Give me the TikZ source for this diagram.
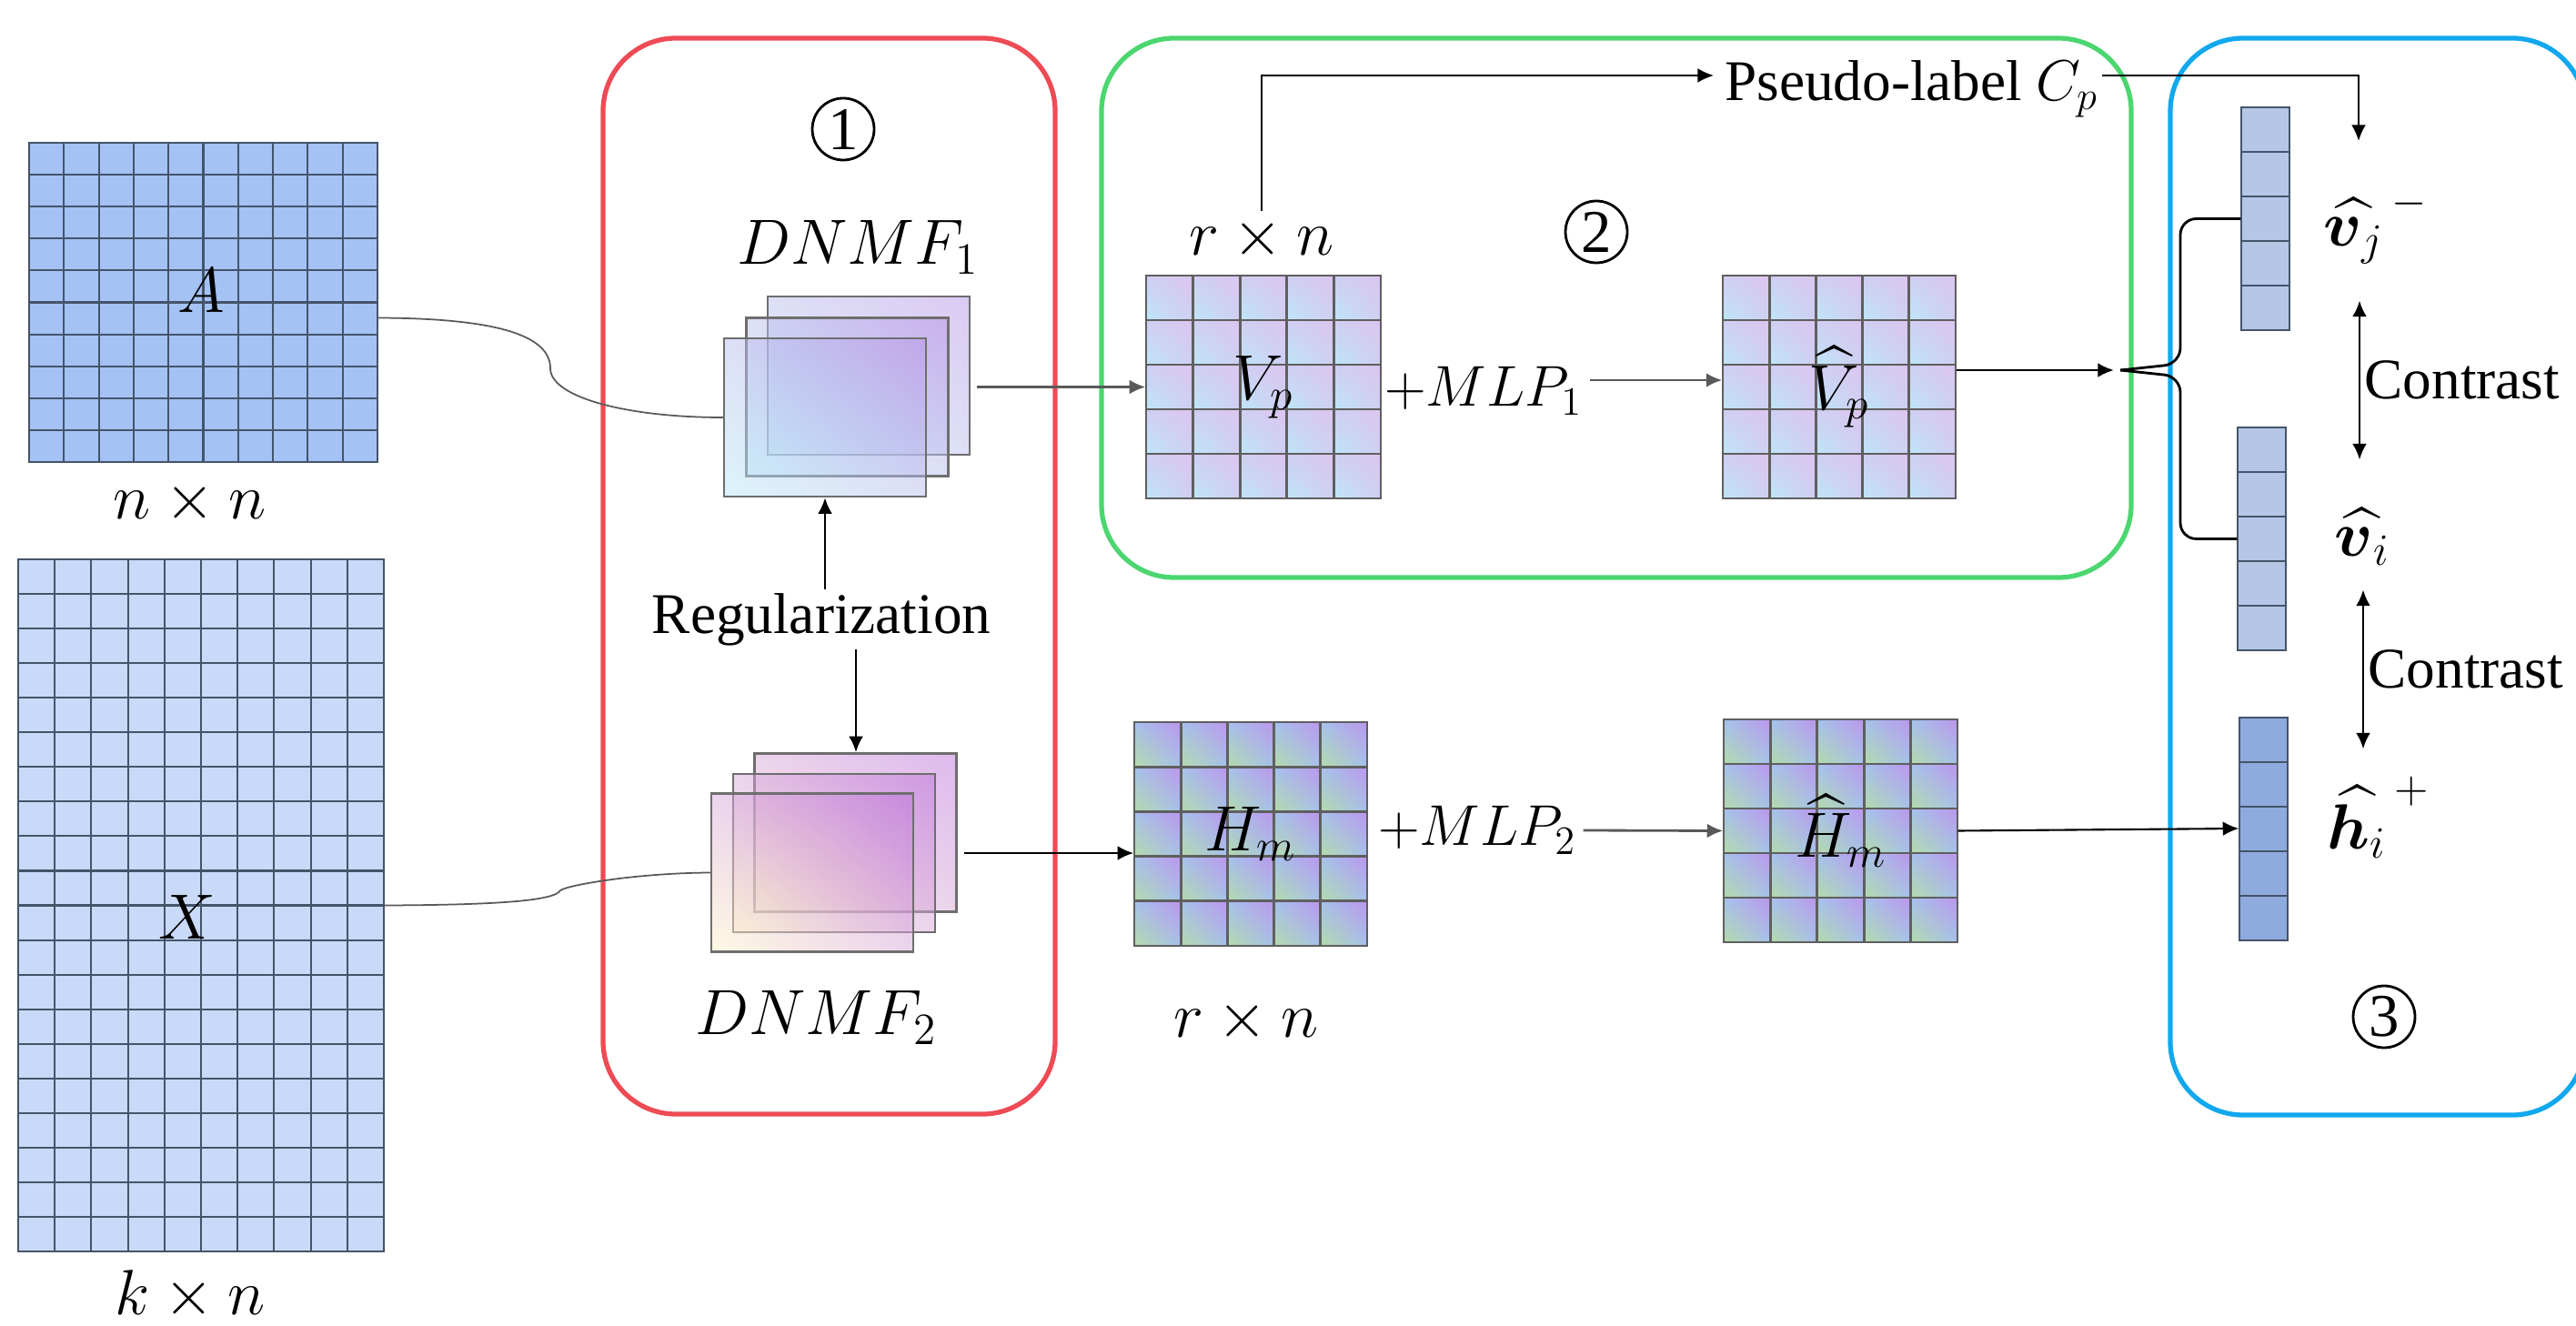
\documentclass[tikz,border=0pt]{standalone}
\usepackage{fix-cm}
\usepackage{amsmath}
\usepackage{fontspec}
\setmainfont{Liberation Serif}
\usetikzlibrary{arrows.meta, positioning, calc, shadings}
\definecolor{regred}{HTML}{EE4B55}
\definecolor{mlpgreen}{HTML}{4BD670}
\definecolor{conblue}{HTML}{12A8EE}
\definecolor{gridline}{HTML}{44546A}
\definecolor{adjfill}{HTML}{A4C2F4}
\definecolor{featfill}{HTML}{C9DAF8}
\definecolor{vecfill}{HTML}{B4C7E7}
\definecolor{hvecfill}{HTML}{8FAADC}
\definecolor{cellgrey}{HTML}{5F5F5F}
\definecolor{linegrey}{HTML}{595959}
\definecolor{stackgrey}{HTML}{6E6E6E}
\definecolor{dnecyan}{HTML}{B8EAF8}
\definecolor{dnepurple}{HTML}{B895E6}
\definecolor{dnemid}{HTML}{BCC0EE}
\definecolor{dntcream}{HTML}{FFF4C6}
\definecolor{dntpurple}{HTML}{BC74D9}
\definecolor{dntmid}{HTML}{D9A8DA}
\definecolor{vpcyan}{HTML}{BEE6F7}
\definecolor{vppink}{HTML}{DDC5F0}
\definecolor{vpmid}{HTML}{CFCEF2}
\definecolor{hmgreen}{HTML}{B4DBA9}
\definecolor{hmpurple}{HTML}{BC95EC}
\definecolor{hmblue}{HTML}{A4C2EE}

% cells of a matrix: x0, y0, cell width, cell height, cols, rows, style
\newcommand{\cellblock}[7]{%
  \foreach \i in {1,...,#5}{%
    \foreach \j in {1,...,#6}{%
      \path[#7] ({#1+(\i-1)*#3},{#2+(\j-1)*#4}) rectangle ++(#3,#4);
    }%
  }%
}

\tikzset{
  stagebox/.style={draw, line width=1.5pt, rounded corners=0.8cm, inner sep=0pt},
  matnode/.style={inner sep=0pt, font=\fontsize{20}{24}\selectfont},
  mathlbl/.style={inner sep=2pt, font=\fontsize{20}{24}\selectfont},
  mlplbl/.style={inner sep=2pt, font=\fontsize{18}{22}\selectfont},
  txt/.style={inner sep=1pt, font=\fontsize{18}{22}\selectfont},
  circnum/.style={circle, draw, line width=0.8pt, minimum size=0.68cm, inner sep=0pt, font=\fontsize{19}{22}\selectfont},
  stackrect/.style={draw=stackgrey, line width=0.7pt, minimum width=2.22cm, minimum height=1.74cm, inner sep=0pt, fill opacity=0.5},
  dnmfone/.style={stackrect, shade, lower left=dnecyan, upper right=dnepurple, upper left=dnemid, lower right=dnemid},
  dnmftwo/.style={stackrect, shade, lower left=dntcream, upper right=dntpurple, upper left=dntmid, lower right=dntmid},
  vpcell/.style={shade, lower left=vpcyan, upper right=vppink, upper left=vpmid, lower right=vpmid, draw=cellgrey, line width=0.8pt},
  hmcell/.style={shade, lower left=hmgreen, upper right=hmpurple, upper left=hmblue, lower right=hmblue, draw=cellgrey, line width=0.8pt},
  arr/.style={-{Latex[length=5pt,width=4.5pt]}, line width=0.8pt},
  thinarr/.style={-{Latex[length=5pt,width=4.5pt]}, line width=0.6pt},
  greyarr/.style={arr, draw=linegrey},
  dblarr/.style={{Latex[length=5pt,width=4.5pt]}-{Latex[length=5pt,width=4.5pt]}, line width=0.8pt},
  curvel/.style={draw=linegrey, line width=0.5pt}
}

\begin{document}
\begin{tikzpicture}
    \useasboundingbox (0,0) rectangle (28.32,14.57);
    \clip (0,0) rectangle (28.32,14.57);

    % input matrices
    \cellblock{0.32}{9.49}{0.383}{0.351}{10}{10}{fill=adjfill, draw=gridline, line width=0.6pt}
    \node[matnode, minimum width=3.83cm, minimum height=3.51cm] (A) at (2.235,11.245) {};
    \node[mathlbl] (Alab) at (2.21,11.38) {$A$};
    \node[mathlbl] (nxn) at (2.09,9.04) {$n\times n$};

    \cellblock{0.20}{0.81}{0.402}{0.3805}{10}{20}{fill=featfill, draw=gridline, line width=0.6pt}
    \node[matnode, minimum width=4.02cm, minimum height=7.61cm] (X) at (2.21,4.615) {};
    \node[mathlbl] (Xlab) at (2.06,4.49) {$X$};
    \node[mathlbl] (kxn) at (2.09,0.33) {$k\times n$};

    % stages
    \node[stagebox, draw=regred, minimum width=4.97cm, minimum height=11.83cm] (stage1) at (9.115,8.235) {};
    \node[stagebox, draw=mlpgreen, minimum width=11.32cm, minimum height=5.93cm] (stage2) at (17.77,11.185) {};
    \node[stagebox, draw=conblue, minimum width=4.56cm, minimum height=11.84cm] (stage3) at (26.14,8.23) {};

    % DNMF
    \node[circnum] (num1) at (9.27,13.15) {1};
    \node[mathlbl] (dnmf1) at (9.43,11.85) {$DNMF_1$};
    \node[dnmfone] (d1c) at (9.55,10.44) {};
    \node[dnmfone] (d1b) at (9.315,10.205) {};
    \node[dnmfone] (d1a) at (9.07,9.98) {};
    \node[txt] (reg) at (9.03,7.76) {Regularization};
    \node[dnmftwo] (d2c) at (9.405,5.415) {};
    \node[dnmftwo] (d2b) at (9.17,5.19) {};
    \node[dnmftwo] (d2a) at (8.93,4.975) {};
    \node[mathlbl] (dnmf2) at (8.97,3.38) {$DNMF_2$};

    % V_p
    \cellblock{12.60}{9.09}{0.516}{0.49}{5}{5}{vpcell}
    \node[matnode, minimum width=2.58cm, minimum height=2.45cm] (Vp) at (13.89,10.315) {$V_p$};
    \node[mathlbl] (rxn1) at (13.87,11.94) {$r\times n$};
    \node[circnum] (num2) at (17.55,12.02) {2};
    \node[mlplbl] (mlp1) at (16.31,10.27) {$+MLP_1$};
    \cellblock{18.94}{9.09}{0.512}{0.49}{5}{5}{vpcell}
    \node[matnode, minimum width=2.56cm, minimum height=2.45cm] (Vhat) at (20.22,10.315) {$\widehat{V}_p$};
    \node[txt, anchor=base west] (pl) at (18.92,13.46) {Pseudo-label $C_p$};

    % H_m
    \cellblock{12.47}{4.17}{0.512}{0.492}{5}{5}{hmcell}
    \node[matnode, minimum width=2.56cm, minimum height=2.46cm] (Hm) at (13.75,5.40) {$H_m$};
    \node[mathlbl] (rxn2) at (13.70,3.34) {$r\times n$};
    \node[mlplbl] (mlp2) at (16.24,5.44) {$+MLP_2$};
    \cellblock{18.95}{4.21}{0.514}{0.49}{5}{5}{hmcell}
    \node[matnode, minimum width=2.57cm, minimum height=2.45cm] (Hhat) at (20.235,5.435) {$\widehat{H}_m$};

    % contrast vectors
    \cellblock{24.64}{10.94}{0.53}{0.49}{1}{5}{fill=vecfill, draw=gridline, line width=0.6pt}
    \node[matnode, minimum width=0.53cm, minimum height=2.45cm] (vj) at (24.905,12.165) {};
    \cellblock{24.60}{7.42}{0.53}{0.49}{1}{5}{fill=vecfill, draw=gridline, line width=0.6pt}
    \node[matnode, minimum width=0.53cm, minimum height=2.45cm] (vi) at (24.865,8.645) {};
    \cellblock{24.62}{4.23}{0.53}{0.49}{1}{5}{fill=hvecfill, draw=gridline, line width=0.6pt}
    \node[matnode, minimum width=0.53cm, minimum height=2.45cm] (hi) at (24.885,5.46) {};
    \node[mathlbl] (vjl) at (26.12,12.08) {$\widehat{\boldsymbol{v}_j}^{\,-}$};
    \node[mathlbl] (vil) at (25.97,8.67) {$\widehat{\boldsymbol{v}_i}$};
    \node[mathlbl] (hil) at (26.15,5.58) {$\widehat{\boldsymbol{h}_i}^{\,+}$};
    \node[txt, anchor=west, inner sep=0pt] (con1) at (25.99,10.39) {Contrast};
    \node[txt, anchor=west, inner sep=0pt] (con2) at (26.03,7.21) {Contrast};
    \node[circnum] (num3) at (26.21,3.39) {3};

    % connectors
    \coordinate (akink) at (6.05,10.52);
    \draw[curvel] ([yshift=-0.17cm]A.east) .. controls (5.4,11.07) and (6.05,10.9) .. (akink) .. controls (6.05,10.2) and (6.9,9.98) .. (d1a.west);
    \coordinate (xkink) at (6.16,4.78);
    \draw[curvel] (X.east) .. controls (5.4,4.62) and (6.1,4.66) .. (xkink) .. controls (6.25,4.84) and (7.0,4.97) .. (d2a.west);
    \draw[arr] (reg.north -| d1a.south) -- (d1a.south);
    \coordinate (regdn) at ([xshift=0.38cm]reg.south);
    \draw[arr] (regdn) -- (regdn |- d2c.north);
    \draw[greyarr, shorten <=2pt] (d1c.east |- Vp.west) -- (Vp.west);
    \draw[arr, shorten <=2pt] (d2c.east |- d2b.east) -- (Hm.west |- d2b.east);
    \coordinate (m1tail) at ([yshift=0.12cm]mlp1.east);
    \draw[greyarr] (m1tail) -- (m1tail -| Vhat.west);
    \draw[greyarr] (mlp2.east) -- (Hhat.west);
    \coordinate (pltip) at (18.84,13.74);
    \draw[thinarr] (rxn1.north) |- (pltip);
    \coordinate (vjtip) at (25.93,13.02);
    \draw[thinarr] (pl.east |- pltip) -| (vjtip);
    \coordinate (bsplit) at (23.31,10.50);
    \draw[arr, shorten >=2pt] (Vhat.east |- bsplit) -- (bsplit);
    \draw[line width=0.8pt, rounded corners=5pt] (bsplit) -- ++(0.66,0.07) |- (vj.west);
    \draw[line width=0.8pt, rounded corners=5pt] (bsplit) -- ++(0.66,-0.07) |- (vi.west);
    \draw[thinarr] (Hhat.east) -- (hi.west);
    \draw[dblarr] ([shift={(-0.05,0.875)}]con1.west) -- ([shift={(-0.05,-0.875)}]con1.west);
    \draw[dblarr] ([shift={(-0.05,0.875)}]con2.west) -- ([shift={(-0.05,-0.875)}]con2.west);
\end{tikzpicture}
\end{document}
